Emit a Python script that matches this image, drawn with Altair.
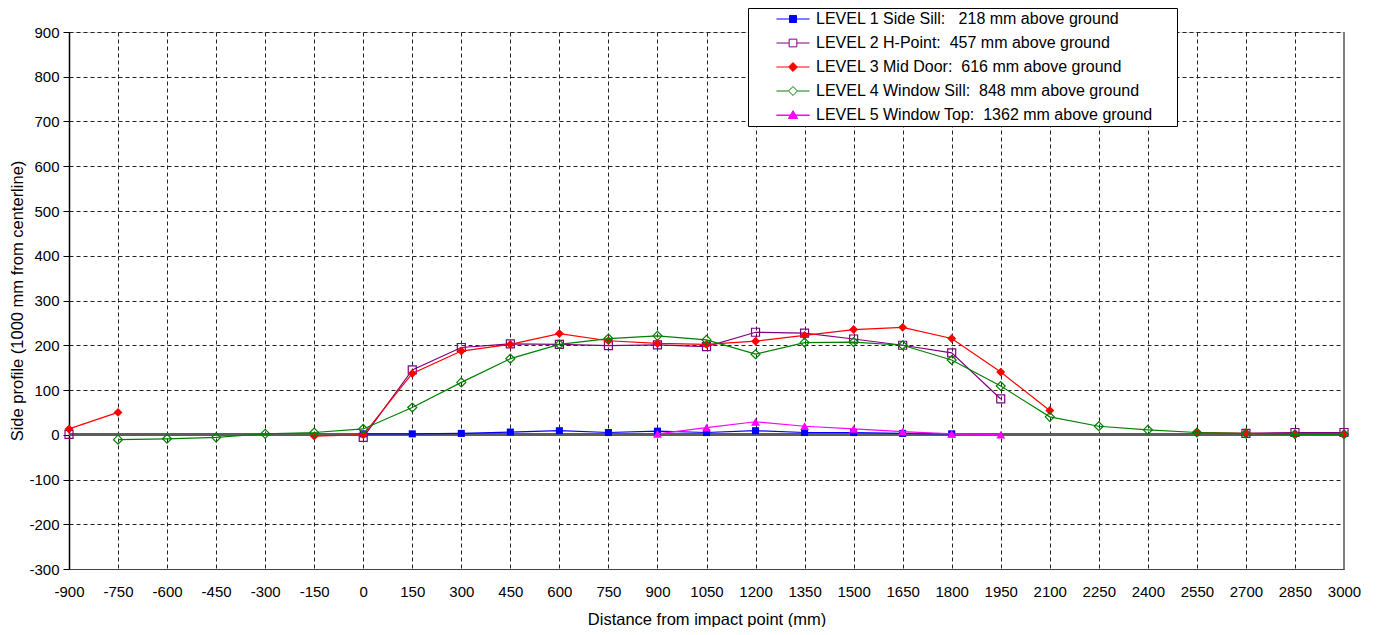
import altair as alt
import pandas as pd

# ---------------- data ----------------
xs = [-900, -750, -600, -450, -300, -150, 0, 150, 300, 450, 600, 750, 900,
      1050, 1200, 1350, 1500, 1650, 1800, 1950, 2100, 2250, 2400, 2550, 2700, 2850, 3000]
y_ticks = [-300, -200, -100, 0, 100, 200, 300, 400, 500, 600, 700, 800, 900]

N = None
level1 = [N, N, N, N, N, N, 2, 2, 3, 6, 9, 5, 8, 5, 9, 5, 5, 3, 2, N, N, N, N, N, N, N, N]
level2 = [1, N, N, N, N, N, -6, 145, 195, 203, 202, 199, 201, 197, 229, 227, 214, 200, 183, 80,
          N, N, N, N, 3, 5, 5]
level3 = [13, 50, N, N, N, -3, 0, 137, 187, 202, 226, 210, 204, 202, 209, 222, 235, 240, 215, 140, 54,
          N, N, 5, 3, 2, 2]
level4 = [N, -11, -9, -6, 2, 5, 13, 61, 117, 170, 202, 215, 221, 212, 180, 206, 207, 200, 167, 109, 40,
          19, 11, 5, 3, 1, 1]
level5 = [N, N, N, N, N, N, N, N, N, N, N, N, 2, 16, 29, 19, 13, 7, 2, 0, N, N, N, N, N, N, N]

NB = "\u00a0"
BLANK = "\u2800"
labels = [
    "LEVEL 1 Side Sill:" + NB * 3 + "218 mm above ground",
    "LEVEL 2 H-Point:" + NB * 2 + "457 mm above ground",
    "LEVEL 3 Mid Door:" + NB * 2 + "616 mm above ground",
    "LEVEL 4 Window Sill:" + NB * 2 + "848 mm above ground",
    "LEVEL 5 Window Top:" + NB * 2 + "1362 mm above ground" + NB * 2 + BLANK,
]
series_values = [level1, level2, level3, level4, level5]

colors = ["#0000FF", "#800080", "#FF0000", "#008000", "#FF00FF"]
marker_shapes = ["square", "square", "diamond", "diamond", "triangle-up"]
marker_filled = [True, False, True, False, True]
marker_sizes = [50, 64, 80, 80, 80]

# legend symbols: line with marker in the middle (units of symbol radius)
legend_paths = [
    "M-2.36,0H-0.5M0.5,0H2.36M-0.5,-0.5H0.5V0.5H-0.5Z",
    "M-2.36,0H-0.55M0.55,0H2.36M-0.55,-0.55H0.55V0.55H-0.55Z",
    "M-2.36,0H-0.64M0.64,0H2.36M-0.64,0L0,-0.64L0.64,0L0,0.64Z",
    "M-2.36,0H-0.64M0.64,0H2.36M-0.64,0L0,-0.64L0.64,0L0,0.64Z",
    "M-2.36,0H2.36M-2.36,0.08H2.36M-0.66,0.5L0,-0.62L0.66,0.5Z",
]
legend_fills = ["#0000FF", "#FFFFFF", "#FF0000", "#FFFFFF", "#FF00FF"]

# ---------------- long table with contiguous segments ----------------
rows = []
for lab, vals in zip(labels, series_values):
    seg = 0
    prev_valid = False
    for x, v in zip(xs, vals):
        if v is None:
            if prev_valid:
                seg += 1
            prev_valid = False
            continue
        rows.append({"x": x, "y": v, "series": lab, "seg": f"{lab}-{seg}"})
        prev_valid = True
df = pd.DataFrame(rows)

FONT = "Liberation Sans"

x_enc = alt.X(
    "x:Q",
    scale=alt.Scale(domain=[-900, 3000], nice=False, zero=False),
    axis=alt.Axis(
        values=xs, title="Distance from impact point (mm)", grid=True,
        labelExpr="'' + datum.value",
        gridDash=[4, 3], gridColor="#222222", gridWidth=1,
        tickSize=0, labelPadding=15, labelFontSize=15, labelFont=FONT,
        labelColor="#000000", labelFlush=False, labelOverlap=False,
        domainColor="#444444", domainWidth=1,
        titleFont=FONT, titleFontSize=16.5, titleFontWeight="normal",
        titleColor="#000000", titlePadding=12.5,
    ),
)
y_enc = alt.Y(
    "y:Q",
    scale=alt.Scale(domain=[-300, 900], nice=False, zero=False),
    axis=alt.Axis(
        values=y_ticks, labelExpr="'' + datum.value",
        title="Side profile (1000 mm from centerline)", grid=True,
        gridDash=[4, 3], gridColor="#222222", gridWidth=1,
        tickSize=6, tickColor="#000000", labelPadding=4, labelFontSize=15,
        labelFont=FONT, labelColor="#000000", domainColor="#000000",
        domainWidth=1.5, titleFont=FONT, titleFontSize=16.5,
        titleFontWeight="normal", titleColor="#000000", titlePadding=3,
    ),
)

layers = []

zero_rule = alt.Chart(df).mark_rule(color="#5e5e5e", strokeWidth=2).encode(y=alt.datum(0))
right_rule = alt.Chart(df).mark_rule(color="#808080", strokeWidth=2).encode(x=alt.datum(3000))

for lab, col, shp, fil, sz in zip(labels, colors, marker_shapes, marker_filled, marker_sizes):
    sub = alt.Chart(df).transform_filter(alt.datum.series == lab)
    line = sub.mark_line(color=col, strokeWidth=1.2).encode(
        x=x_enc, y=y_enc, detail="seg:N", order="x:Q"
    )
    if fil:
        pts = sub.mark_point(shape=shp, size=sz, filled=True, color=col, opacity=1).encode(x=x_enc, y=y_enc)
    else:
        pts = sub.mark_point(shape=shp, size=sz, filled=False, color=col, strokeWidth=1.2, opacity=1).encode(x=x_enc, y=y_enc)
    layers += [line, pts]

leg = alt.Legend(
    orient="none", legendX=679, legendY=-24, title=None,
    labelFont=FONT, labelFontSize=16, labelColor="#000000", labelLimit=0,
    symbolSize=196, symbolStrokeWidth=1, symbolOffset=34, labelOffset=15,
    rowPadding=8, padding=3, strokeColor="#000000", fillColor="#FFFFFF",
    cornerRadius=0,
)
legend_layer = alt.Chart(df).mark_point(size=0, filled=True, opacity=1).encode(
    x=x_enc, y=y_enc,
    stroke=alt.Stroke("series:N", scale=alt.Scale(domain=labels, range=colors), legend=leg),
    fill=alt.Fill("series:N", scale=alt.Scale(domain=labels, range=legend_fills), legend=leg),
    shape=alt.Shape("series:N", scale=alt.Scale(domain=labels, range=legend_paths), legend=leg),
)

chart = alt.layer(zero_rule, right_rule, *layers, legend_layer).properties(
    width=1275, height=537,
    padding={"left": 61, "top": 24, "right": 25, "bottom": 58},
    autosize=alt.AutoSizeParams(type="none"),
).configure_view(stroke=None).configure(background="#FFFFFF")

chart.save("out.html", embed_options={"renderer": "svg", "actions": False})
